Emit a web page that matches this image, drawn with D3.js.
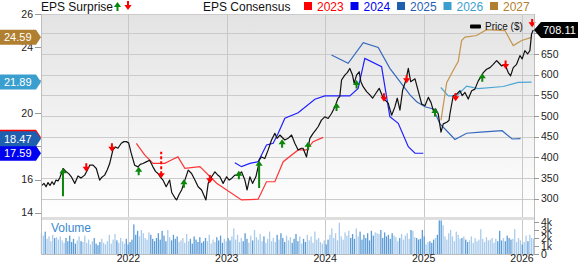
<!DOCTYPE html>
<html>
<head>
<meta charset="utf-8">
<script src="https://cdn.jsdelivr.net/npm/d3@7"></script>
<style>
body { margin: 0; background: #fff; }
svg { display: block; font-family: "Liberation Sans", Arial, sans-serif; }
</style>
</head>
<body>
<div id="chart"></div>
<script>
// weekly close, [decimal year, price $]
var price = [
  [2021.114,331],[2021.141,337],[2021.162,329],[2021.182,339],[2021.202,332],[2021.223,341],
  [2021.243,334],[2021.263,345],[2021.284,343],[2021.304,352],[2021.335,373],[2021.368,365],
  [2021.395,360],[2021.419,353],[2021.454,337],[2021.487,355],[2021.517,350],[2021.555,357],
  [2021.580,368],[2021.606,381],[2021.640,381],[2021.673,373],[2021.707,345],[2021.730,352],
  [2021.758,357],[2021.785,370],[2021.809,385],[2021.842,418],[2021.868,425],[2021.893,422],
  [2021.927,434],[2021.954,438],[2021.978,438],[2022.002,435],[2022.028,410],[2022.063,381],
  [2022.097,377],[2022.120,383],[2022.147,385],[2022.181,389],[2022.215,393],[2022.249,377],
  [2022.275,366],[2022.300,361],[2022.325,352],[2022.351,345],[2022.384,329],[2022.419,345],
  [2022.440,315],[2022.475,301],[2022.490,297],[2022.515,310],[2022.541,321],[2022.574,345],
  [2022.608,369],[2022.642,361],[2022.676,345],[2022.709,329],[2022.744,321],[2022.788,297],
  [2022.811,337],[2022.846,353],[2022.879,365],[2022.905,358],[2022.930,353],[2022.963,337],
  [2022.998,353],[2023.025,345],[2023.049,349],[2023.082,357],[2023.116,357],[2023.150,365],
  [2023.184,345],[2023.207,321],[2023.235,353],[2023.262,337],[2023.296,353],[2023.319,377],
  [2023.329,393],[2023.354,401],[2023.387,397],[2023.421,418],[2023.455,442],[2023.489,458],
  [2023.512,446],[2023.540,454],[2023.565,448],[2023.590,442],[2023.624,446],[2023.659,454],
  [2023.692,434],[2023.726,418],[2023.760,422],[2023.776,422],[2023.811,401],[2023.845,446],
  [2023.878,458],[2023.904,466],[2023.929,474],[2023.963,490],[2023.997,498],[2024.031,494],
  [2024.065,506],[2024.099,522],[2024.132,543],[2024.149,547],[2024.167,587],[2024.200,599],
  [2024.225,605],[2024.251,615],[2024.278,599],[2024.295,579],[2024.319,599],[2024.346,607],
  [2024.363,583],[2024.386,571],[2024.421,559],[2024.454,551],[2024.482,543],[2024.515,555],
  [2024.549,567],[2024.583,547],[2024.607,539],[2024.640,531],[2024.675,502],[2024.708,522],
  [2024.732,543],[2024.759,514],[2024.787,563],[2024.820,587],[2024.844,615],[2024.868,583],
  [2024.912,590],[2024.945,560],[2024.980,529],[2025.013,525],[2025.047,545],[2025.074,533],
  [2025.098,513],[2025.122,517],[2025.148,505],[2025.176,461],[2025.199,481],[2025.234,485],
  [2025.257,489],[2025.267,505],[2025.285,529],[2025.301,549],[2025.335,553],[2025.369,561],
  [2025.392,549],[2025.420,557],[2025.453,541],[2025.488,561],[2025.521,565],[2025.555,585],
  [2025.589,597],[2025.606,605],[2025.640,613],[2025.674,617],[2025.707,625],[2025.742,634],
  [2025.758,630],[2025.793,621],[2025.826,625],[2025.860,605],[2025.884,597],[2025.911,617],
  [2025.945,625],[2025.979,646],[2026.002,638],[2026.029,658],[2026.057,650],[2026.080,658],
  [2026.097,698],[2026.114,708.11]
]

// EPS consensus by fiscal year, [decimal year, EPS $]
var eps2023 = [[2022.080,18.19],[2022.165,17.49],[2022.250,16.98],[2022.370,16.98],[2022.437,17.18],
  [2022.503,17.37],[2022.574,16.68],[2022.727,16.78],[2022.897,15.78],[2023.150,14.77],[2023.319,14.81],
  [2023.404,15.87],[2023.489,15.87],[2023.574,17.08],[2023.726,17.79],[2023.811,17.79],[2023.878,18.29],
  [2023.980,18.55]]
var eps2024 = [[2023.082,17.02],[2023.150,16.78],[2023.235,16.98],[2023.319,17.08],[2023.404,18.09],
  [2023.472,18.19],[2023.523,18.80],[2023.591,19.70],[2023.726,20.04],[2023.896,20.85],[2023.997,21.05],
  [2024.251,21.05],[2024.335,21.51],[2024.403,23.32],[2024.573,22.82],[2024.657,19.80],[2024.742,19.40],
  [2024.844,17.99],[2024.912,17.59],[2024.996,17.59]]
var eps2025 = [[2024.065,23.52],[2024.234,23.02],[2024.387,24.27],[2024.539,23.98],[2024.657,22.72],
  [2024.759,21.91],[2024.861,21.11],[2024.929,20.70],[2025.013,20.40],[2025.098,20.26],[2025.166,19.36],
  [2025.234,18.95],[2025.318,18.42],[2025.437,18.80],[2025.579,18.86],[2025.798,18.95],[2025.900,18.45],
  [2025.985,18.47]]
var eps2026 = [[2025.174,21.56],[2025.251,21.06],[2025.336,21.06],[2025.437,21.64],[2025.555,21.49],
  [2025.809,21.62],[2025.962,21.87],[2026.097,21.89]]
var eps2027 = [[2025.176,19.58],[2025.234,21.85],[2025.301,22.60],[2025.352,23.15],[2025.386,24.40],
  [2025.420,24.60],[2025.538,24.70],[2025.640,25.05],[2025.826,25.00],[2025.911,24.09],[2025.996,24.40],
  [2026.097,24.59]]

var consensusYears = [2023, 2024, 2025, 2026, 2027]
var consensus = [eps2023, eps2024, eps2025, eps2026, eps2027]

// surprises: [decimal year, price at report, surprise %, estimate only]
var surprises = [
  [2021.334,373.5,30,0],[2021.571,365.2,-2,0],[2021.832,413.6,-2,0],[2022.104,377.3,2,0],
  [2022.333,349.3,-28,1],[2022.564,346.8,2,0],[2022.828,337.2,-2,0],[2023.123,367.6,2,0],
  [2023.329,391.8,29,0],[2023.563,443.6,2,0],[2023.827,437.8,2,0],[2024.116,532.1,2,0],
  [2024.319,587.0,2,0],[2024.597,534.6,-2,0],[2024.827,579.1,-2,0],[2025.115,519.3,2,0],
  [2025.325,535.5,-2,0],[2025.596,603.3,2,0],[2025.833,613.7,-2,0],[2026.103,714.5,-2,0]
]

// weekly volume (k), from 12 Feb 2021
var volume = [
  2.6,2.3,2.8,1.9,2.2,1.6,2.4,2.0,2.1,
  1.8,2.2,1.7,1.4,2.0,1.6,2.3,1.5,1.9,1.3,1.7,2.2,1.6,
  1.5,2.3,1.4,1.8,1.2,1.6,2.0,1.3,1.1,1.5,1.9,1.4,1.2,
  1.6,2.4,1.3,1.8,2.5,1.7,1.4,2.0,1.6,1.3,1.9,1.2,1.5,
  1.8,3.7,2.4,2.9,2.2,3.0,2.6,2.0,1.8,2.7,2.4,1.9,1.6,
  2.0,2.6,1.8,2.9,2.3,1.6,3.0,2.1,1.7,2.4,1.9,2.2,1.5,
  1.7,2.0,1.4,2.5,1.6,1.9,1.3,2.2,1.8,1.5,2.1,1.4,1.6,
  2.0,1.6,2.4,1.3,1.8,1.5,2.1,1.7,2.3,1.4,1.9,1.6,2.0,
  1.7,2.2,3.2,1.8,2.4,1.5,2.0,1.6,2.6,1.9,1.4,2.3,1.7,
  3.0,2.1,1.8,2.5,1.6,2.2,1.4,1.9,2.8,1.6,2.0,1.5,2.4,
  1.8,2.6,2.0,1.5,2.3,1.7,2.1,1.4,1.9,2.5,1.6,2.2,1.3,
  1.9,1.5,2.4,1.7,2.2,1.4,2.8,1.8,2.0,1.5,1.3,1.7,1.2,
  1.8,2.4,3.2,2.0,2.6,1.7,3.9,2.2,1.8,2.7,2.3,2.9,2.0,
  2.5,1.9,3.2,2.2,2.8,1.8,2.4,2.0,2.6,1.7,2.9,2.3,2.7,
  2.6,2.5,3.0,2.0,2.7,2.2,2.4,1.9,2.6,2.3,2.1,1.6,2.0,
  2.5,1.8,2.3,2.6,1.9,3.0,2.9,2.1,2.0,1.8,1.9,3.0,2.2,
  1.2,1.5,1.6,1.4,1.8,2.0,2.4,4.2,4.2,3.6,2.2,1.8,2.6,
  3.0,2.2,1.6,2.8,2.4,1.9,2.0,2.2,1.8,1.5,1.7,2.2,1.4,
  2.0,1.6,1.8,3.1,1.9,1.5,2.1,1.7,1.8,2.0,1.4,1.9,1.6,
  2.9,1.7,2.0,1.6,2.3,2.0,1.8,1.9,3.1,1.5,2.0,1.7,1.2,
  1.5,2.3,1.6,2.4,2.0,1.9
]

var epsTicks = [14, 16, 18, 20, 22, 24, 26]
var epsLabels = [14, 16, 20, 24, 26]   // 18 and 22 sit under the value boxes
var priceTicks = [300, 350, 400, 450, 500, 550, 600, 650, 700]
var priceLabels = [300, 350, 400, 450, 500, 550, 600, 650]   // 700 sits under the price box
var volTicks = [0, 1, 2, 3, 4]
var lastPrice = 708.11

var width = 578, height = 264
var margin = {left: 41, right: 534, top: 14, priceBottom: 217, volTop: 220, volBottom: 254}

var lineColors = {2023: "#ff3535", 2024: "#2020ff", 2025: "#3569bd", 2026: "#4aa6d6", 2027: "#c4954f"}
var boxColors = {2023: "#ff0000", 2024: "#0000f0", 2025: "#1f5fb0", 2026: "#3a9fcf", 2027: "#b17f30"}

function yr(t) {
  var y = Math.floor(t)
  var a = new Date(y, 0, 1), b = new Date(y + 1, 0, 1)
  return new Date(+a + (t - y) * (b - a))
}
function dec(d) {
  var y = d.getFullYear()
  var a = new Date(y, 0, 1), b = new Date(y + 1, 0, 1)
  return y + (d - a) / (b - a)
}

var x = d3.scaleTime().domain([yr(2021.1106), yr(2026.122)]).range([margin.left, margin.right])
var yPrice = d3.scaleLinear().domain([255.7, 746.7]).range([margin.priceBottom, margin.top])
var yEps = d3.scaleLinear().domain([13.74, 26]).range([margin.priceBottom, margin.top])
var yVol = d3.scaleLinear().domain([0, 4]).range([margin.volBottom, 222])
var arrowLen = d3.scaleLinear().domain([0, 30]).range([7, 28])

var svg = d3.select("#chart").append("svg")
  .attr("width", width).attr("height", height)

var grad = svg.append("defs").append("linearGradient")
  .attr("id", "bg").attr("x1", 0).attr("y1", 0).attr("x2", 0).attr("y2", 1)
grad.append("stop").attr("offset", "0%").attr("stop-color", "#e3e3e3")
grad.append("stop").attr("offset", "100%").attr("stop-color", "#ffffff")

svg.append("rect")
  .attr("x", margin.left).attr("y", margin.top)
  .attr("width", margin.right - margin.left).attr("height", margin.priceBottom - margin.top)
  .attr("fill", "url(#bg)")

// grid
svg.append("g").selectAll("line")
  .data(priceTicks.concat([746.7]))
  .enter().append("line")
  .attr("x1", margin.left).attr("x2", margin.right)
  .attr("y1", d => Math.round(yPrice(d)) + 0.5).attr("y2", d => Math.round(yPrice(d)) + 0.5)
  .attr("stroke", "#cbcbcb")

var yearTicks = x.ticks(d3.timeYear.every(1))
svg.append("g").selectAll("line")
  .data(yearTicks)
  .enter().append("line")
  .attr("x1", d => Math.round(x(d)) + 0.5).attr("x2", d => Math.round(x(d)) + 0.5)
  .attr("y1", margin.top).attr("y2", margin.volBottom)
  .attr("stroke", "#c8c8c8")

// volume panel
svg.append("rect")
  .attr("x", margin.left).attr("y", margin.priceBottom)
  .attr("width", margin.right - margin.left).attr("height", margin.volTop - margin.priceBottom)
  .attr("fill", "#dedede")

var priceAt = function(t) {
  for (var i = 1; i < price.length; i++) {
    if (price[i][0] >= t) {
      var a = price[i - 1], b = price[i]
      return a[1] + (b[1] - a[1]) * (t - a[0]) / (b[0] - a[0])
    }
  }
  return price[price.length - 1][1]
}

var volStart = new Date(2021, 1, 12)
var weekMs = 7 * 24 * 3600 * 1000
svg.append("g").selectAll("rect")
  .data(volume)
  .enter().append("rect")
  .attr("x", (d, i) => x(new Date(+volStart + i * weekMs)) - 0.65)
  .attr("width", 1.3)
  .attr("y", d => yVol(d))
  .attr("height", d => yVol(0) - yVol(d))
  .attr("fill", function(d, i) {
    var t0 = new Date(+volStart + (i - 1) * weekMs), t1 = new Date(+volStart + i * weekMs)
    return priceAt(dec(t1)) >= priceAt(dec(t0)) ? "#a9cbec" : "#5c9cd6"
  })

svg.append("text")
  .attr("x", 51).attr("y", 232)
  .attr("font-size", "12px").attr("fill", "#3b8bd0")
  .text("Volume")

// consensus lines
var epsLine = d3.line()
  .x(d => x(yr(d[0])))
  .y(d => yEps(d[1]))

consensus.forEach(function(series, i) {
  svg.append("path")
    .datum(series)
    .attr("d", epsLine)
    .attr("fill", "none")
    .attr("stroke", lineColors[consensusYears[i]])
    .attr("stroke-width", 1.2)
})

// price
var priceLine = d3.line()
  .x(d => x(yr(d[0])))
  .y(d => yPrice(d[1]))

svg.append("path")
  .datum(price)
  .attr("d", priceLine)
  .attr("fill", "none")
  .attr("stroke", "#111")
  .attr("stroke-width", 1.2)
  .attr("stroke-linejoin", "round")

// surprise arrows
function arrowHead(cx, tipY, up) {
  var s = up ? 1 : -1
  return "M" + cx + "," + tipY +
    "L" + (cx + 3.6) + "," + (tipY + 5 * s) +
    "L" + (cx - 3.6) + "," + (tipY + 5 * s) + "Z"
}
function arrowPath(cx, tipY, len, up) {
  var s = up ? 1 : -1
  return "M" + cx + "," + tipY +
    "L" + (cx + 3.6) + "," + (tipY + 5 * s) +
    "L" + (cx + 1) + "," + (tipY + 5 * s) +
    "L" + (cx + 1) + "," + (tipY + len * s) +
    "L" + (cx - 1) + "," + (tipY + len * s) +
    "L" + (cx - 1) + "," + (tipY + 5 * s) +
    "L" + (cx - 3.6) + "," + (tipY + 5 * s) + "Z"
}

var arrows = svg.append("g")
surprises.forEach(function(d) {
  var cx = x(yr(d[0])), tip = yPrice(d[1]), up = d[2] > 0
  var len = arrowLen(Math.abs(d[2]))
  var col = up ? "#0a870a" : "#ff0000"
  if (d[3]) {
    var s = up ? 1 : -1
    arrows.append("line")
      .attr("x1", cx).attr("x2", cx)
      .attr("y1", tip + 4 * s).attr("y2", tip + len * s)
      .attr("stroke", col).attr("stroke-width", 2)
      .attr("stroke-dasharray", "3,2")
    arrows.append("path").attr("d", arrowHead(cx, tip, up)).attr("fill", col)
  } else {
    arrows.append("path").attr("d", arrowPath(cx, tip, len, up)).attr("fill", col)
  }
})

// frame
svg.append("line")
  .attr("x1", margin.left + 0.5).attr("x2", margin.left + 0.5)
  .attr("y1", margin.top).attr("y2", margin.volBottom)
  .attr("stroke", "#bdbdbd")
svg.append("line")
  .attr("x1", margin.right + 0.5).attr("x2", margin.right + 0.5)
  .attr("y1", margin.top).attr("y2", margin.volBottom)
  .attr("stroke", "#bdbdbd")
svg.append("line")
  .attr("x1", margin.left).attr("x2", margin.right)
  .attr("y1", margin.volBottom + 0.5).attr("y2", margin.volBottom + 0.5)
  .attr("stroke", "#bdbdbd")

var leftAxis = svg.append("g")
leftAxis.selectAll("line").data(epsTicks).enter().append("line")
  .attr("x1", 35).attr("x2", margin.left)
  .attr("y1", d => Math.round(yEps(d)) + 0.5).attr("y2", d => Math.round(yEps(d)) + 0.5)
  .attr("stroke", "#999")
leftAxis.selectAll("text").data(epsLabels).enter().append("text")
  .attr("x", 33).attr("y", d => yEps(d)).attr("dy", "0.35em")
  .attr("text-anchor", "end").attr("font-size", "10.5px").attr("fill", "#222")
  .text(d => d)

var rightAxis = svg.append("g")
rightAxis.selectAll("line.p").data(priceTicks).enter().append("line")
  .attr("x1", margin.right).attr("x2", 539)
  .attr("y1", d => Math.round(yPrice(d)) + 0.5).attr("y2", d => Math.round(yPrice(d)) + 0.5)
  .attr("stroke", "#999")
rightAxis.selectAll("text.p").data(priceLabels).enter().append("text")
  .attr("x", 541).attr("y", d => yPrice(d)).attr("dy", "0.35em")
  .attr("font-size", "10.5px").attr("fill", "#222")
  .text(d => d)
rightAxis.selectAll("line.v").data(volTicks).enter().append("line")
  .attr("x1", margin.right).attr("x2", 539)
  .attr("y1", d => Math.round(yVol(d)) + 0.5).attr("y2", d => Math.round(yVol(d)) + 0.5)
  .attr("stroke", "#999")
rightAxis.selectAll("text.v").data(volTicks).enter().append("text")
  .attr("x", 541).attr("y", d => yVol(d)).attr("dy", "0.35em")
  .attr("font-size", "10.5px").attr("fill", "#222")
  .text(d => d ? d + "k" : "0")

svg.append("g").selectAll("text").data(yearTicks).enter().append("text")
  .attr("x", d => x(d)).attr("y", 262)
  .attr("text-anchor", "middle").attr("font-size", "10.5px").attr("fill", "#222")
  .text(d => d.getFullYear())

// last EPS value boxes
consensus.forEach(function(series, i) {
  var v = series[series.length - 1][1]
  var cy = yEps(v)
  var g = svg.append("g")
  g.append("path")
    .attr("d", "M0," + (cy - 7.5) + "H36L41," + cy + "L36," + (cy + 7.5) + "H0Z")
    .attr("fill", boxColors[consensusYears[i]])
  g.append("text")
    .attr("x", 4).attr("y", cy).attr("dy", "0.36em")
    .attr("font-size", "11px").attr("fill", "#fff")
    .text(v.toFixed(2))
})

// last price box
var py = yPrice(lastPrice)
svg.append("path")
  .attr("d", "M" + margin.right + "," + py + "L541," + (py - 8) + "H578V" + (py + 8) + "H541Z")
  .attr("fill", "#000")
svg.append("text")
  .attr("x", 543).attr("y", py).attr("dy", "0.36em")
  .attr("font-size", "11px").attr("fill", "#fff")
  .text(lastPrice.toFixed(2))

// legend
svg.append("text").attr("x", 41).attr("y", 11).attr("font-size", "12px").attr("fill", "#111").text("EPS Surprise")
svg.append("path").attr("d", arrowPath(117.5, 2, 9, true)).attr("fill", "#0a870a")
svg.append("path").attr("d", arrowPath(128, 10, 9, false)).attr("fill", "#ff0000")
svg.append("text").attr("x", 203).attr("y", 11).attr("font-size", "12px").attr("fill", "#111").text("EPS Consensus")

var legend = svg.append("g").selectAll("g")
  .data(consensusYears).enter().append("g")
  .attr("transform", (d, i) => "translate(" + (304 + i * 46.5) + ",0)")
legend.append("rect").attr("x", 0).attr("y", 2).attr("width", 8).attr("height", 8)
  .attr("fill", d => boxColors[d])
legend.append("text").attr("x", 13).attr("y", 11).attr("font-size", "12px")
  .attr("fill", d => boxColors[d]).text(d => d)

svg.append("rect").attr("x", 470).attr("y", 24.5).attr("width", 11).attr("height", 4).attr("rx", 1)
  .attr("fill", "#000")
svg.append("text").attr("x", 485).attr("y", 30).attr("font-size", "10px").attr("fill", "#111").text("Price ($)")
</script>
</body>
</html>
